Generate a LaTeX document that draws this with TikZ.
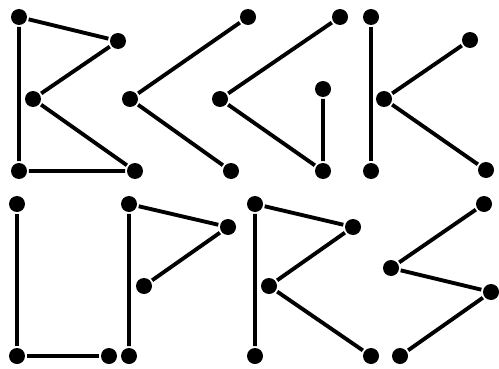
\documentclass[tikz,border=0pt]{standalone}
\usetikzlibrary{positioning}

\begin{document}
\begin{tikzpicture}[x=0.02cm,y=-0.02cm,line width=2.2pt,
  vtx/.style={circle,fill=black,inner sep=0pt,minimum size=0.32cm}]
\useasboundingbox (0,0) rectangle (499,368);
%% top row: B < G K
\node[vtx] (b1) at (19,17) {};
\node[vtx] (b2) at (118,41) {};
\node[vtx] (b3) at (33,99) {};
\node[vtx] (b4) at (135,171) {};
\node[vtx] (b5) at (19,171) {};
\draw (b1) -- (b2) -- (b3) -- (b4) -- (b5) -- (b1);
\node[vtx] (c1) at (248,17) {};
\node[vtx] (c2) at (130,99) {};
\node[vtx] (c3) at (231,171) {};
\draw (c1) -- (c2) -- (c3);
\node[vtx] (g1) at (340,17) {};
\node[vtx] (g2) at (220,99) {};
\node[vtx] (g3) at (323,171) {};
\node[vtx] (g4) at (323,89) {};
\draw (g1) -- (g2) -- (g3) -- (g4);
\node[vtx] (k1) at (371,17) {};
\node[vtx] (k2) at (371,171) {};
\node[vtx] (k3) at (470,40) {};
\node[vtx] (k4) at (384,99) {};
\node[vtx] (k5) at (486,170) {};
\draw (k1) -- (k2);
\draw (k3) -- (k4) -- (k5);
%% bottom row: L P R S
\node[vtx] (l1) at (17,204) {};
\node[vtx] (l2) at (17,356) {};
\node[vtx] (l3) at (109,356) {};
\draw (l1) -- (l2) -- (l3);
\node[vtx] (p1) at (129,356) {};
\node[vtx] (p2) at (129,204) {};
\node[vtx] (p3) at (228,227) {};
\node[vtx] (p4) at (144,286) {};
\draw (p1) -- (p2) -- (p3) -- (p4);
\node[vtx] (r1) at (255,356) {};
\node[vtx] (r2) at (255,204) {};
\node[vtx] (r3) at (353,227) {};
\node[vtx] (r4) at (269,286) {};
\node[vtx] (r5) at (371,356) {};
\draw (r1) -- (r2) -- (r3) -- (r4) -- (r5);
\node[vtx] (s1) at (484,204) {};
\node[vtx] (s2) at (391,268) {};
\node[vtx] (s3) at (491,292) {};
\node[vtx] (s4) at (400,356) {};
\draw (s1) -- (s2) -- (s3) -- (s4);
\end{tikzpicture}
\end{document}
